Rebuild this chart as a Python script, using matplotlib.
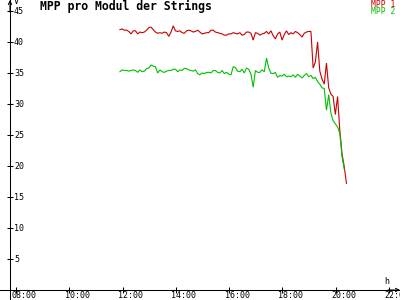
import numpy as np
import matplotlib
matplotlib.use("Agg")
import matplotlib.pyplot as plt
from matplotlib.transforms import offset_copy

title = "MPP pro Modul der Strings"
series_names = ["MPP 1", "MPP 2"]
start_hour = 11.9      # first sample (h)
step_min = 5           # sampling interval (min)

mpp1 = [42.0, 42.1, 41.9, 41.9, 41.7, 41.3, 41.8, 41.8, 41.3, 41.6, 41.5, 41.6,
        41.9, 42.3, 42.4, 42.0, 41.6, 41.4, 41.5, 41.4, 41.6, 41.5, 40.9, 41.6,
        42.6, 41.8, 41.7, 41.8, 41.5, 41.4, 41.8, 41.9, 41.8, 41.6, 41.7, 41.9,
        41.6, 41.3, 41.4, 41.5, 41.5, 41.9, 41.9, 41.6, 41.5, 41.4, 41.3, 41.1,
        41.1, 41.3, 41.3, 41.5, 41.4, 41.3, 41.5, 41.1, 41.2, 41.6, 41.6, 41.4,
        40.3, 41.5, 41.4, 41.1, 41.3, 41.4, 41.7, 41.3, 41.8, 41.0, 40.5, 41.3,
        41.6, 40.3, 41.2, 41.8, 41.2, 41.5, 41.3, 41.7, 41.5, 41.2, 40.8, 41.4,
        41.6, 41.7, 41.7, 35.8, 36.8, 40.0, 35.3, 34.0, 33.2, 36.6, 32.6, 31.6,
        31.2, 28.3, 31.2, 25.8, 22.0, 19.9, 17.2]

mpp2 = [35.2, 35.5, 35.4, 35.4, 35.3, 35.4, 35.5, 35.4, 35.1, 35.5, 35.2, 35.3,
        35.7, 35.8, 36.3, 36.1, 36.0, 35.0, 35.5, 35.2, 35.1, 35.3, 35.4, 35.4,
        35.6, 35.6, 35.2, 35.5, 35.4, 35.75, 35.7, 35.5, 35.4, 35.3, 35.5, 34.9,
        34.7, 35.0, 34.9, 35.1, 35.1, 35.0, 35.4, 35.4, 35.1, 35.0, 35.4, 34.9,
        35.1, 34.8, 34.7, 36.0, 35.9, 35.3, 35.2, 35.6, 35.0, 35.8, 35.6, 34.8,
        32.7, 35.4, 35.1, 35.1, 35.5, 35.2, 37.4, 35.8, 34.95, 34.9, 35.1, 34.3,
        34.6, 34.5, 34.8, 34.4, 34.5, 34.4, 34.7, 34.3, 34.8, 34.5, 34.2, 34.6,
        34.9, 34.4, 34.6, 34.1, 34.3, 33.6, 33.2, 32.6, 32.5, 29.0, 31.5, 28.5,
        27.3, 26.8, 26.3, 25.3, 21.5, 19.5]

x_ticks = [8, 10, 12, 14, 16, 18, 20, 22]
x_tick_labels = ["08:00", "10:00", "12:00", "14:00", "16:00", "18:00", "20:00", "22:00"]
y_ticks = [5, 10, 15, 20, 25, 30, 35, 40, 45]
y_tick_labels = [str(v) for v in y_ticks]
x_unit = "h"
y_unit = "V"

colors = ["#c80000", "#00c000"]
mono = "DejaVu Sans Mono"

fig = plt.figure(figsize=(4, 3), dpi=100)
fig.patch.set_facecolor("white")
ax = fig.add_axes([0, 0, 1, 1])
ax.set_facecolor("white")
x_axis_pos = 7.775
ax.set_xlim(7.400, 22.409)
ax.set_ylim(-1.613, 46.77)

for vals, c in zip([mpp1, mpp2], colors):
    t = start_hour + np.arange(len(vals)) * step_min / 60.0
    ax.plot(t, vals, color=c, lw=0.8, solid_joinstyle="miter")

for s in ["top", "right"]:
    ax.spines[s].set_visible(False)
ax.spines["left"].set_position(("data", x_axis_pos))
ax.spines["bottom"].set_position(("data", 0))
for s in ["left", "bottom"]:
    ax.spines[s].set_linewidth(0.75)
    ax.spines[s].set_color("black")
ax.set_xticks(x_ticks)
ax.set_yticks(y_ticks)
ax.tick_params(direction="inout", length=4.3, width=0.75, color="black",
               labelleft=False, labelbottom=False)

# axis arrows
ax.annotate("", xy=(x_axis_pos, 1.0), xytext=(x_axis_pos, 0.96),
            xycoords=("data", "axes fraction"), textcoords=("data", "axes fraction"),
            arrowprops=dict(arrowstyle="->", lw=0.75, color="black", shrinkA=0, shrinkB=0,
                            mutation_scale=6))
ax.annotate("", xy=(1.0, 0), xytext=(0.97, 0),
            xycoords=("axes fraction", "data"), textcoords=("axes fraction", "data"),
            arrowprops=dict(arrowstyle="->", lw=0.75, color="black", shrinkA=0, shrinkB=0,
                            mutation_scale=6))

# tick labels
for v, lab in zip(y_ticks, y_tick_labels):
    tr = offset_copy(ax.transData, fig=fig, x=4, y=-3, units="dots")
    ax.text(x_axis_pos, v, lab, transform=tr, ha="left", va="baseline",
            fontsize=6, family=mono, clip_on=False)
for v, lab in zip(x_ticks, x_tick_labels):
    tr = offset_copy(ax.transData, fig=fig, x=-4.5, y=-8, units="dots")
    ax.text(v, 0, lab, transform=tr, ha="left", va="baseline",
            fontsize=6, family=mono, clip_on=False)

# units
fig.text(387 / 400, 1 - 284 / 300, x_unit, ha="center", va="baseline", fontsize=6, family=mono)
fig.text(16 / 400, 1 - 4 / 300, y_unit, ha="center", va="baseline", fontsize=6, family=mono)

# title
fig.text(40 / 400, 1 - 10 / 300, title, ha="left", va="baseline",
         fontsize=8.3, family=mono, fontweight="bold")

# legend texts
for i, (name, c) in enumerate(zip(series_names, colors)):
    fig.text(395 / 400, 1 - (6.6 + 7.6 * i) / 300, name, ha="right", va="baseline",
             fontsize=5.8, family=mono, color=c)

fig.savefig("out.png", dpi=100)
